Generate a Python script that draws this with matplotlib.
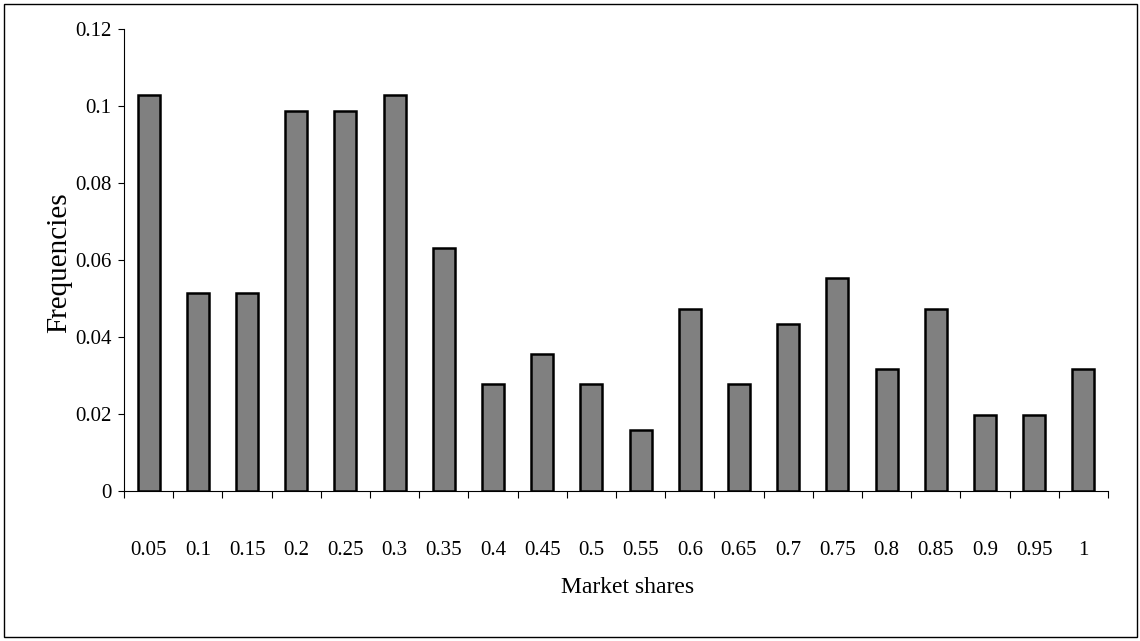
import matplotlib
matplotlib.use('Agg')
import matplotlib.pyplot as plt
from matplotlib.patches import Rectangle

# market share classes and their relative frequencies
shares = ['0.05', '0.1', '0.15', '0.2', '0.25', '0.3', '0.35', '0.4', '0.45', '0.5',
          '0.55', '0.6', '0.65', '0.7', '0.75', '0.8', '0.85', '0.9', '0.95', '1']
freqs = [0.1028, 0.0514, 0.0514, 0.0988, 0.0988, 0.1028, 0.0632, 0.0277, 0.0356, 0.0277,
         0.0158, 0.0474, 0.0277, 0.0435, 0.0553, 0.0316, 0.0474, 0.0198, 0.0198, 0.0316]
yticks = [0, 0.02, 0.04, 0.06, 0.08, 0.1, 0.12]
ytick_labels = ['0', '0.02', '0.04', '0.06', '0.08', '0.1', '0.12']

plt.rcParams['font.family'] = ['Liberation Serif', 'DejaVu Serif']

fig = plt.figure(figsize=(11.4, 6.41), dpi=100)
ax = fig.add_axes([0.1088, 0.234, 0.8631, 0.7208])

x = list(range(len(shares)))
ax.bar(x, freqs, width=0.45, color='#808080', edgecolor='black', linewidth=1.8, zorder=3)

ax.set_xlim(-0.5, len(shares) - 0.5)
ax.set_ylim(0, 0.12)

# boundary ticks (major) without labels, centered labels (minor) without marks
ax.set_xticks([i - 0.5 for i in range(len(shares) + 1)])
ax.set_xticklabels([])
ax.set_xticks(x, minor=True)
ax.set_xticklabels(shares, minor=True, fontsize=15)
ax.tick_params(axis='x', which='major', direction='out', length=5, width=0.8)
ax.tick_params(axis='x', which='minor', length=0, pad=36)

ax.set_yticks(yticks)
ax.set_yticklabels(ytick_labels, fontsize=15)
ax.tick_params(axis='y', direction='out', length=4, width=0.8, pad=5)

for s in ['top', 'right']:
    ax.spines[s].set_visible(False)
for s in ['left', 'bottom']:
    ax.spines[s].set_linewidth(0.8)

ax.set_xlabel('Market shares', fontsize=17)
ax.xaxis.set_label_coords(0.512, -0.187)
ax.set_ylabel('Frequencies', fontsize=21)
ax.yaxis.set_label_coords(-0.053, 0.495)

# outer chart border
fig.patches.append(Rectangle((0.0035, 0.006), 0.9935, 0.988, transform=fig.transFigure,
                             fill=False, edgecolor='black', linewidth=1.0))

fig.savefig('out.png', dpi=100)
